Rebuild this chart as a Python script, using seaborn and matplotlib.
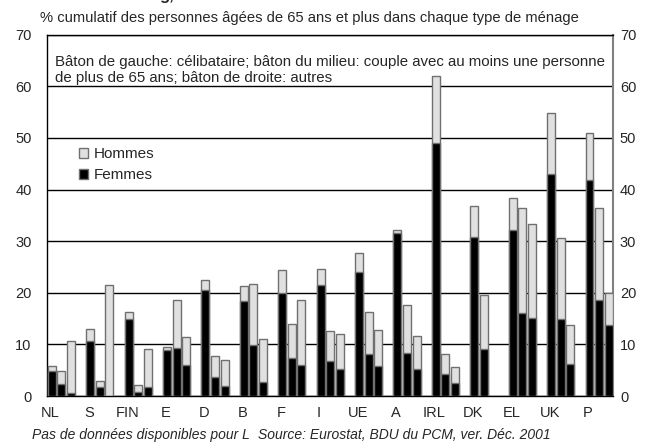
import pandas as pd
import matplotlib
matplotlib.use("Agg")
import matplotlib.pyplot as plt
import seaborn as sns
from matplotlib.patches import Patch

# pays (un groupe de 3 bâtons chacun)
countries = ["NL", "S", "FIN", "E", "D", "B", "F", "I", "UE", "A",
             "IRL", "DK", "EL", "UK", "P"]
households = ["célibataire", "couple", "autres"]

# total cumulé (hommes + femmes) par pays et par type de ménage
total = [
    [5.9, 4.8, 10.6],
    [13.0, 3.0, 21.5],
    [16.3, 2.1, 9.2],
    [9.5, 18.7, 11.4],
    [22.4, 7.8, 7.0],
    [21.3, 21.8, 11.1],
    [24.5, 13.9, 18.7],
    [24.6, 12.6, 12.0],
    [27.8, 16.3, 12.8],
    [32.1, 17.7, 11.6],
    [62.0, 8.1, 5.6],
    [36.9, 19.6, None],
    [38.3, 36.5, 33.3],
    [54.9, 30.7, 13.7],
    [50.9, 36.5, 20.0],
]
# part des femmes
femmes = [
    [4.9, 2.3, 0.5],
    [10.7, 1.7, 0.0],
    [15.0, 0.8, 1.8],
    [8.9, 9.4, 6.1],
    [20.5, 3.6, 1.9],
    [18.4, 9.9, 2.7],
    [20.0, 7.3, 6.1],
    [21.6, 6.8, 5.2],
    [24.0, 8.1, 5.8],
    [31.6, 8.3, 5.2],
    [49.0, 4.2, 2.5],
    [30.8, 9.2, None],
    [32.1, 16.0, 15.2],
    [43.1, 15.0, 6.2],
    [41.9, 18.6, 13.8],
]

rows = []
for i, c in enumerate(countries):
    for j, h in enumerate(households):
        if total[i][j] is None:
            continue
        rows.append({"pays": c, "menage": h, "pos": i * 4 + j,
                     "total": total[i][j], "femmes": femmes[i][j]})
df = pd.DataFrame(rows)

sns.set_theme(style="white")
plt.rcParams["font.family"] = ["Liberation Sans", "DejaVu Sans"]

light = "#e0e0e0"
edge = "#707070"

fig = plt.figure(figsize=(6.47, 4.45), dpi=100)
ax = fig.add_axes([0.0726, 0.110, 0.8748, 0.812])

sns.barplot(data=df, x="pos", y="total", native_scale=True, color=light,
            edgecolor=edge, linewidth=1, width=0.82, errorbar=None,
            saturation=1, ax=ax, zorder=3)
sns.barplot(data=df, x="pos", y="femmes", native_scale=True, color="black",
            edgecolor=edge, linewidth=1, width=0.82, errorbar=None,
            saturation=1, ax=ax, zorder=4)

ax.set_xlim(-0.5, 58.45)
ax.set_ylim(0, 70)
ax.set_yticks(range(0, 71, 10))
ax.yaxis.grid(True, color="black", linewidth=1)
ax.set_axisbelow(True)
ax.set_xticks([i * 4 - 0.15 for i in range(len(countries))])
ax.set_xticklabels(countries, fontsize=10.5)
ax.tick_params(axis="x", length=0, pad=7)
ax.tick_params(axis="y", length=0, pad=11, labelsize=10.5)
ax.set_xlabel("")
ax.set_ylabel("")
for s in ["left", "bottom", "top"]:
    ax.spines[s].set_color("black")
    ax.spines[s].set_linewidth(1)
ax.spines["right"].set_color("#808080")
ax.spines["right"].set_linewidth(1.5)

ax2 = ax.twinx()
ax2.set_ylim(0, 70)
ax2.set_yticks(range(0, 71, 10))
ax2.tick_params(axis="y", length=0, pad=5, labelsize=10.5)
for s in ax2.spines.values():
    s.set_visible(False)

ax.text(0.015, 0.902,
        "Bâton de gauche: célibataire; bâton du milieu: couple avec au moins une personne\n"
        "de plus de 65 ans; bâton de droite: autres",
        transform=ax.transAxes, fontsize=10.8, va="center", ha="left",
        linespacing=1.15, zorder=5)

handles = [Patch(facecolor=light, edgecolor=edge, label="Hommes"),
           Patch(facecolor="black", edgecolor=edge, label="Femmes")]
ax.legend(handles=handles, loc="upper left", bbox_to_anchor=(0.045, 0.705),
          frameon=False, fontsize=11, handlelength=0.65, handleheight=0.65,
          handletextpad=0.35, labelspacing=0.45, borderaxespad=0)

fig.text(0.062, 0.9596, "% cumulatif des personnes âgées de 65 ans et plus dans chaque type de ménage",
         fontsize=10.6, ha="left", va="center")
fig.text(0.247, 1.0, "g,", fontsize=12, fontweight="bold", ha="left", va="baseline")
fig.text(0.05, 0.022, "Pas de données disponibles pour L", fontsize=10,
         style="italic", ha="left", va="center")
fig.text(0.399, 0.022, "Source: Eurostat, BDU du PCM, ver. Déc. 2001", fontsize=10,
         style="italic", ha="left", va="center")

fig.savefig("out.png", dpi=100)
